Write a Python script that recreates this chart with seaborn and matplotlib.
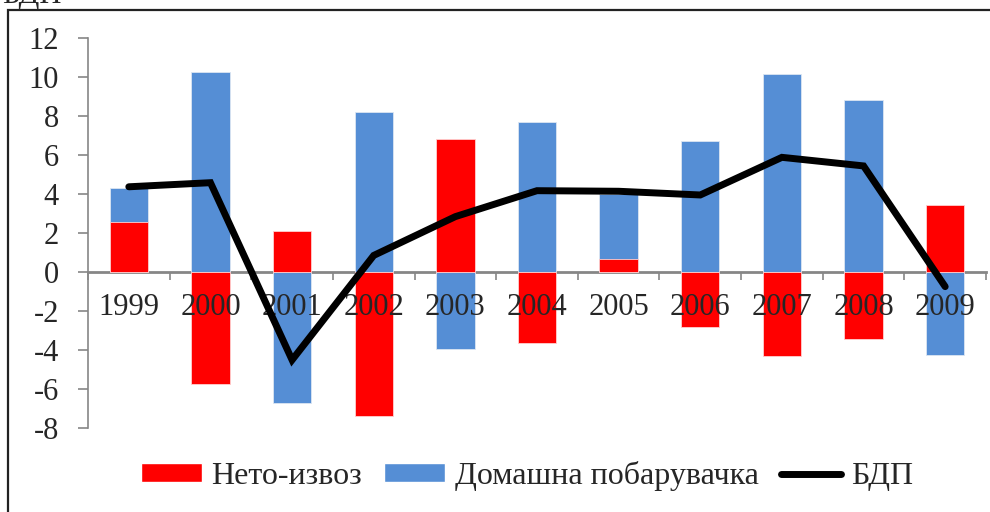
import numpy as np
import matplotlib
matplotlib.use("Agg")
import matplotlib.pyplot as plt
import seaborn as sns
from matplotlib.patches import Patch, Rectangle
from matplotlib.lines import Line2D

# Податоци (придонес кон растот на БДП)
years = ["1999", "2000", "2001", "2002", "2003", "2004", "2005", "2006", "2007", "2008", "2009"]
neto_izvoz = [2.55, -5.74, 2.12, -7.38, 6.8, -3.62, 0.68, -2.84, -4.31, -3.44, 3.44]
domasna = [4.32, 10.26, -6.7, 8.2, -3.97, 7.69, 3.98, 6.72, 10.15, 8.84, -4.24]
bdp = [4.37, 4.58, -4.51, 0.85, 2.84, 4.17, 4.14, 3.95, 5.88, 5.44, -0.75]

legend_labels = ["Нето-извоз", "Домашна побарувачка", "БДП"]
red = "#FF0000"
blue = "#558ED5"
grey = "#868686"

sns.set_theme(style="white")
plt.rcParams["font.family"] = ["Liberation Serif", "DejaVu Serif"]

fig = plt.figure(figsize=(9.9, 5.12), dpi=100)
ax = fig.add_axes([88 / 990, 1 - 428 / 512, (986 - 88) / 990, (428 - 38) / 512])

# Столбови (преклопени, не наредени)
sns.barplot(x=years, y=domasna, order=years, color=blue, width=0.47,
            edgecolor="#dce6f2", linewidth=0.6, saturation=1, ax=ax, zorder=2)
sns.barplot(x=years, y=neto_izvoz, order=years, color=red, width=0.47,
            edgecolor="#ffd0d0", linewidth=0.6, saturation=1, ax=ax, zorder=3)

# Линија за БДП
sns.lineplot(x=np.arange(len(years)), y=bdp, color="black", linewidth=5,
             solid_capstyle="round", solid_joinstyle="miter", ax=ax, zorder=6)

ax.set_xlim(-0.5, len(years) - 0.5)
ax.set_ylim(-8, 12)
ax.set_yticks(np.arange(-8, 13, 2))
ax.set_yticklabels([str(v) for v in range(-8, 13, 2)])

ax.spines["top"].set_visible(False)
ax.spines["right"].set_visible(False)
ax.spines["left"].set_color(grey)
ax.spines["left"].set_linewidth(1.2)
ax.spines["bottom"].set_color(grey)
ax.spines["bottom"].set_linewidth(2)
ax.spines["bottom"].set_position(("data", 0))
ax.spines["bottom"].set_zorder(1)

ax.set_xticks(np.arange(len(years)))
ax.set_xticklabels(years)
ax.set_xticks(np.arange(-0.5, len(years), 1), minor=True)
ax.tick_params(axis="x", which="major", length=0, pad=15, labelsize=22)
ax.tick_params(axis="x", which="minor", bottom=True, length=6, width=1.2, color=grey)
ax.tick_params(axis="y", left=True, length=7, width=1.2, color=grey, pad=14, labelsize=22)
ax.xaxis.set_zorder(5)
ax.set_xlabel("")
ax.set_ylabel("")

# Легенда
handles = [Patch(facecolor=red), Patch(facecolor=blue),
           Line2D([0], [0], color="black", linewidth=5)]
fig.legend(handles, legend_labels, loc="center", bbox_to_anchor=(527 / 990, 1 - 476 / 512),
           ncol=3, frameon=False, fontsize=23, handlelength=1.9, handleheight=0.55,
           handletextpad=0.3, columnspacing=0.7)

# Рамка и наслов на оската
fig.patches.append(Rectangle((8 / 990, -0.2), 1.2, 1.2 + (1 - 10 / 512) - 1,
                             transform=fig.transFigure, fill=False,
                             edgecolor="#222222", linewidth=1.6))
fig.text(0.002, 1 - 3 / 512, "БДП", va="baseline", ha="left", fontsize=22)

fig.savefig("out.png", dpi=100)
